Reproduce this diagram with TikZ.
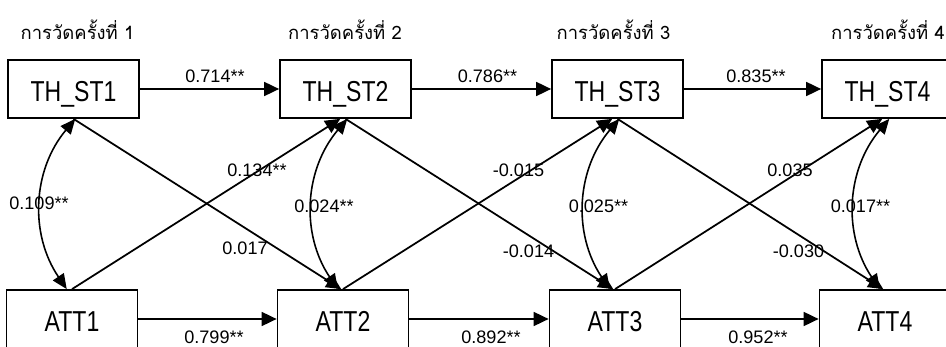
\documentclass[tikz,border=0pt]{standalone}
\usepackage{fontspec}
\setmainfont{Liberation Sans}
\newfontfamily\thaifont[Script=Thai]{Loma}
\newfontfamily\varfont[FakeStretch=0.8]{Liberation Sans}
\usetikzlibrary{arrows.meta}
\begin{document}
\begin{tikzpicture}[x=0.02cm,y=-0.02cm,
  var/.style={draw,line width=1pt,minimum width=2.62cm,minimum height=1.16cm,inner sep=0pt,
    text height=0.52cm,text depth=0pt,font=\varfont\fontsize{16.4}{18}\selectfont},
  coef/.style={anchor=base,inner sep=0pt,font=\fontsize{10.3}{12}\selectfont},
  wave/.style={anchor=base,inner sep=0pt,font=\thaifont\fontsize{10.5}{12}\selectfont},
  link/.style={line width=1pt,-{Triangle[length=0.3cm,width=0.28cm]}},
  cov/.style={line width=0.9pt,{Triangle[length=0.3cm,width=0.26cm]}-{Triangle[length=0.3cm,width=0.26cm]},bend left=37}]
\useasboundingbox (0,0) rectangle (946,347);
\clip (0,0) rectangle (946,347);
\foreach \i/\x/\h in {1/73.5/77.5,2/345.5/345,3/617.5/613.5,4/887.5/888}{
\node[var] (TH\i) at (\x,89) {TH\_ST\i};
\node[wave] (wave\i) at (\h,40) {การวัดครั้งที่ \i};
}
\foreach \i/\x in {1/72,2/343,3/615,4/885}
\node[var] (ATT\i) at (\x,319) {ATT\i};
\foreach \i/\j in {1/2,2/3,3/4}{
\draw[link] (TH\i) -- (TH\j);
\draw[link] (ATT\i) -- (ATT\j);
\draw[link] (TH\i.south) -- ([xshift=-1pt]ATT\j.north);
\draw[link] (ATT\i.north) -- ([xshift=-3pt]TH\j.south);
}
\foreach \i in {1,2,3,4}
\draw[cov] ([xshift=-3pt]ATT\i.north) to ([xshift=1pt]TH\i.south);
\foreach \n/\x/\y/\t in {t12/215/83/0.714**,t23/487.5/83/0.786**,t34/756/83/0.835**,
  a12/214/343/0.799**,a23/491/343/0.892**,a34/758/343/0.952**,
  at12/257/177/0.134**,at23/518.5/177/-0.015,at34/790/177/0.035,
  ta12/245/255/0.017,ta23/528.5/258/-0.014,ta34/798.5/258/-0.030,
  r1/39/210/0.109**,r2/324/213/0.024**,r3/598.5/213/0.025**,r4/860.5/213/0.017**}
\node[coef] (\n) at (\x,\y) {\t};
\end{tikzpicture}
\end{document}
